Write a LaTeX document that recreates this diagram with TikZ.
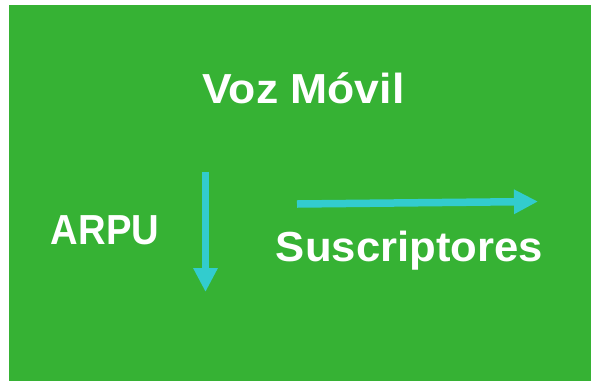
\documentclass[tikz,border=0pt]{standalone}
\usepackage{fontspec}
\setmainfont{Liberation Sans}
\usepackage{xcolor}
\usepackage{tikz}
\usetikzlibrary{arrows.meta}
\usetikzlibrary{positioning}
\definecolor{boxgreen}{RGB}{54,178,52}
\definecolor{arrowcyan}{RGB}{50,204,206}
\tikzset{	x=1pt, y=-1pt,
	label text/.style={
		text=white,
		font=\fontsize{42}{48}\selectfont\bfseries\addfontfeature{FakeStretch=#1},
		inner sep=0pt,
		anchor=base},
	label text/.default=1,
	trend/.style={
		draw=arrowcyan,
		line width=7.5pt,
		-{Triangle[length=24pt,width=23pt]}}
}
\begin{document}
\begin{tikzpicture}
				\useasboundingbox (0,0) rectangle (591,381);
				\fill[boxgreen] (9,5) rectangle (591,381);
				\node[label text=1.06] (title) at (303.5,103.3) {Voz Móvil};
				\node[label text=0.91] (arpu) at (105,244) {ARPU};
				\node[label text=1.04] (subs) at (409.5,261.5) {Suscriptores};
				\coordinate (d0) at (205.5,171.5);
				\coordinate (d1) at (205.5,292);
				\coordinate (r0) at (297,204);
				\coordinate (r1) at (538,201.5);
				\draw[trend] (d0) -- (d1);
				\draw[trend] (r0) -- (r1);
			\end{tikzpicture}
\end{document}
